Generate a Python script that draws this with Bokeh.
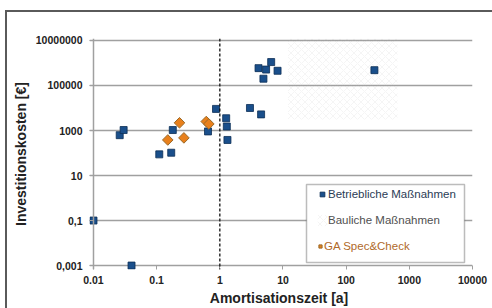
from bokeh.plotting import figure
from bokeh.models import (Range1d, FixedTicker, CustomJSTickFormatter, Span,
                          BoxAnnotation, Legend, LegendItem)
from bokeh.embed import file_html
from bokeh.resources import INLINE

# ---- data ----
betrieblich_x = [0.026, 0.030, 0.18, 0.11, 0.17, 0.65, 0.87, 1.26, 1.29, 1.32,
                 3.0, 4.1, 6.5, 5.4, 8.2, 4.9, 280, 4.5, 0.01, 0.04]
betrieblich_y = [620, 1050, 1050, 87, 103, 910, 9100, 3500, 1500, 380,
                 10000, 590000, 1100000, 510000, 450000, 200000, 480000, 5200, 0.1, 0.001]

ga_x = [0.23, 0.15, 0.27, 0.61, 0.67]
ga_y = [2200, 380, 470, 2500, 1950]

# Bauliche Maßnahmen: faint hatched area
bauliche_x = [12, 650]
bauliche_y = [3000, 1.2e7]

amortisation_limit = 1.0

x_ticks = [0.01, 0.1, 1, 10, 100, 1000, 10000]
x_tick_labels = ["0.01", "0.1", "1", "10", "100", "1000", "10000"]
y_ticks = [1e-3, 1e-1, 1e1, 1e3, 1e5, 1e7]
y_tick_labels = ["0,001", "0,1", "10", "1000", "100000", "10000000"]

FONT = "Liberation Sans"
BORDER = "#5a5a5a"

p = figure(width=492, height=308, x_axis_type="log", y_axis_type="log",
           x_range=Range1d(10 ** -2.0633, 10 ** 4.0),
           y_range=Range1d(10 ** -3.1754, 10 ** 7.0877),
           output_backend="svg", toolbar_location=None,
           min_border_left=89, min_border_right=20,
           min_border_top=38, min_border_bottom=36)
p.outline_line_color = None
p.background_fill_color = "white"
p.border_fill_alpha = 0
# outer chart border (top and left edges of the chart box)
p.styles = {
    "background-color": "white",
    "background-image": f"linear-gradient({BORDER},{BORDER}), linear-gradient({BORDER},{BORDER})",
    "background-size": "2px 100%, 100% 2px",
    "background-position": "5px 10px, 5px 10px",
    "background-repeat": "no-repeat",
}

fmt_code = """
for (let i = 0; i < tvals.length; i++) {
  if (Math.abs(Math.log10(tick) - Math.log10(tvals[i])) < 1e-6) return tlabels[i];
}
return '';
"""

xa = p.xaxis[0]
xa.ticker = FixedTicker(ticks=x_ticks)
xa.formatter = CustomJSTickFormatter(args=dict(tvals=x_ticks, tlabels=x_tick_labels), code=fmt_code)
ya = p.yaxis[0]
ya.ticker = FixedTicker(ticks=y_ticks)
ya.formatter = CustomJSTickFormatter(args=dict(tvals=y_ticks, tlabels=y_tick_labels), code=fmt_code)

for ax in (xa, ya):
    ax.axis_line_color = None
    ax.major_tick_in = 4
    ax.major_tick_out = 0
    ax.major_tick_line_color = "#a0a0a0"
    ax.major_tick_line_width = 1
    ax.minor_tick_line_color = None
    ax.major_label_text_font = FONT
    ax.major_label_text_font_style = "bold"
    ax.major_label_text_font_size = "10.5px"
    ax.major_label_text_color = "#222222"
    ax.axis_label_text_font = FONT
    ax.axis_label_text_font_style = "bold"
    ax.axis_label_text_font_size = "14px"
    ax.axis_label_text_color = "#222222"

xa.axis_label = "Amortisationszeit  [a]"
xa.major_label_standoff = 6
xa.axis_label_standoff = 3
ya.axis_label = "Investitionskosten [€]"
ya.major_label_standoff = 7
ya.axis_label_standoff = 4

p.xgrid.grid_line_color = None
p.ygrid.ticker = FixedTicker(ticks=y_ticks)
p.ygrid.grid_line_color = "#a0a0a0"
p.ygrid.grid_line_width = 1.5

# left axis line
p.add_layout(Span(location=x_ticks[0], dimension="height",
                  line_color="#a0a0a0", line_width=1.5))
# amortisation limit
p.add_layout(Span(location=amortisation_limit, dimension="height",
                  line_color="#111111", line_width=1.3, line_dash="3 2"))

bau_r = p.quad(left=[bauliche_x[0]], right=[bauliche_x[1]],
               bottom=[bauliche_y[0]], top=[bauliche_y[1]],
               fill_alpha=0, line_alpha=0,
               hatch_pattern="diagonal_cross", hatch_color="#b8b8b8",
               hatch_alpha=0.2, hatch_scale=7, hatch_weight=0.7)

blue_r = p.scatter(betrieblich_x, betrieblich_y, marker="square", size=7,
                   fill_color="#1a4f8b", line_color="#0d2e55", line_width=0.8)
ga_r = p.scatter(ga_x, ga_y, marker="square", angle=0.785398, size=7.5,
                 fill_color="#e8801c", line_color="#9a6a2a", line_width=1)

# legend frame
p.add_layout(BoxAnnotation(left=306, right=464, top=184, bottom=262,
                           left_units="canvas", right_units="canvas",
                           top_units="canvas", bottom_units="canvas",
                           fill_color="white", fill_alpha=1,
                           line_color="#222222", line_width=1.5))

def make_legend(label, rend, loc, color, gw):
    leg = Legend(items=[LegendItem(label=label, renderers=[rend])], location=loc,
                 padding=0, margin=0, spacing=0, glyph_width=gw, glyph_height=14,
                 label_height=14, label_standoff=0,
                 label_text_font=FONT, label_text_font_size="11.5px",
                 label_text_color=color, border_line_color=None,
                 background_fill_alpha=0)
    p.add_layout(leg)

make_legend("Betriebliche Maßnahmen", blue_r, (227, 68), "#2b3c55", 12)
make_legend("Bauliche Maßnahmen", bau_r, (227, 42), "#505050", 12)
make_legend("GA Spec&Check", ga_r, (227, 16), "#b06a2a", 8)

open("out.html", "w").write(file_html(p, INLINE))
